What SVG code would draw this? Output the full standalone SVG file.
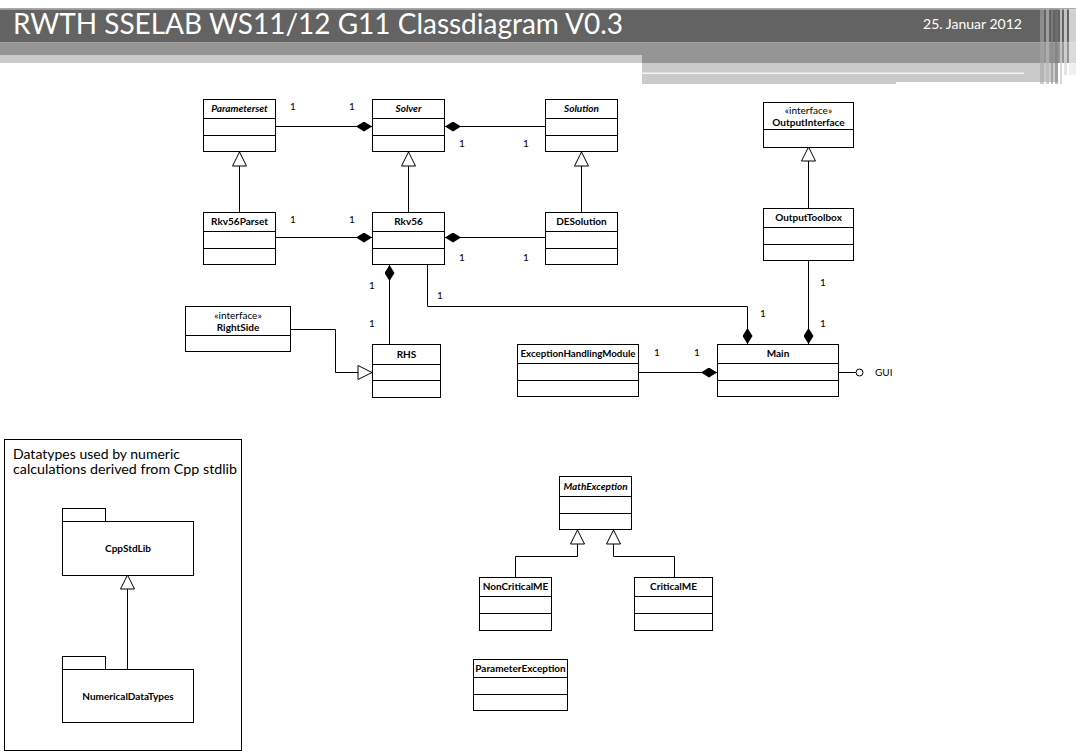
<svg xmlns="http://www.w3.org/2000/svg" width="1076" height="754" viewBox="0 0 1076 754">
<style>
.box{fill:#fff;stroke:#000;stroke-width:1}
.frame{fill:none;stroke:#000;stroke-width:1}
.sep{stroke:#000;stroke-width:1}
.t{font-family:Lato,"Liberation Sans",sans-serif;font-size:10px;fill:#000}
.n{font-weight:bold;text-anchor:middle}
.it{font-style:italic}
.st{text-anchor:middle}
.m{font-family:Lato,"Liberation Sans",sans-serif;font-size:10px;fill:#000;text-anchor:middle}
.c{fill:none;stroke:#000;stroke-width:1}
.comp{marker-end:url(#dia)}
.gen{marker-end:url(#tri)}
</style>
<defs>
<marker id="dia" viewBox="0 0 16 10" refX="16" refY="5" markerWidth="16" markerHeight="10" markerUnits="userSpaceOnUse" orient="auto">
<path d="M0,5 L8,0 L16,5 L8,10 Z" fill="#000"/>
</marker>
<marker id="tri" viewBox="-1 -1 16 16" refX="14" refY="7" markerWidth="16" markerHeight="16" markerUnits="userSpaceOnUse" orient="auto">
<path d="M0,0 L14,7 L0,14 Z" fill="#fff" stroke="#000" stroke-width="1"/>
</marker>
</defs>
<rect width="1076" height="754" fill="#fff"/>
<g id="header">
<rect x="0" y="8" width="1076" height="1.5" fill="#a8a8a8"/>
<rect x="0" y="9.5" width="1076" height="33" fill="#636363"/>
<rect x="0" y="42.5" width="1076" height="12.5" fill="#959595"/>
<rect x="0" y="55" width="642" height="8" fill="#cacaca"/>
<rect x="642" y="55" width="434" height="8" fill="#959595"/>
<rect x="642" y="63" width="416" height="21" fill="#cacaca"/>
<rect x="642" y="72.5" width="382" height="1.5" fill="#f4f4f4"/>
<rect x="896" y="82" width="162" height="2" fill="#fff"/>
<rect x="1040" y="9" width="4" height="75" fill="#a8a8a8" opacity="0.6"/>
<rect x="1046" y="9" width="3" height="75" fill="#b8b8b8" opacity="0.7"/>
<rect x="1051" y="9" width="2" height="75" fill="#8a8a8a" opacity="0.6"/>
<rect x="1055" y="9" width="3" height="75" fill="#777" opacity="0.5"/>
<rect x="1060" y="9" width="2" height="75" fill="#d0d0d0" opacity="0.8"/>
<rect x="1064" y="9" width="3" height="66" fill="#dcdcdc" opacity="0.8"/>
<rect x="1069" y="9" width="7" height="66" fill="#ececec" opacity="0.8"/>
<text x="13" y="33.5" font-family="Lato,'Liberation Sans',sans-serif" font-size="29" fill="#fff" textLength="610" lengthAdjust="spacingAndGlyphs">RWTH SSELAB WS11/12 G11 Classdiagram V0.3</text>
<text x="923" y="28.5" font-family="Lato,'Liberation Sans',sans-serif" font-size="13" fill="#fff" textLength="99" lengthAdjust="spacingAndGlyphs">25. Januar 2012</text>
</g>
<g id="Datatypes">
<rect class="frame" x="4.5" y="439.5" width="237" height="311"/>
<text x="13" y="459" font-family="Lato,'Liberation Sans',sans-serif" font-size="13" fill="#000" textLength="167" lengthAdjust="spacingAndGlyphs">Datatypes used by numeric</text>
<text x="13" y="474" font-family="Lato,'Liberation Sans',sans-serif" font-size="13" fill="#000" textLength="224" lengthAdjust="spacingAndGlyphs">calculations derived from Cpp stdlib</text>
</g>
<g id="connectors">
<path class="c comp" d="M276,126.5 H372"/>
<path class="c comp" d="M545,126.5 H445"/>
<path class="c comp" d="M276,237.5 H372"/>
<path class="c comp" d="M545,237.5 H445"/>
<path class="c gen" d="M239.5,212 V152"/>
<path class="c gen" d="M408.5,212 V152"/>
<path class="c gen" d="M581.5,212 V152"/>
<path class="c gen" d="M808.5,208 V147"/>
<path class="c comp" d="M808.5,261 V344"/>
<path class="c comp" d="M427.5,265 V306.5 H747.5 V344"/>
<path class="c comp" d="M389.5,344 V265"/>
<path class="c gen" d="M290,329.5 H335.5 V372.5 H372"/>
<path class="c comp" d="M638,372.5 H717"/>
<path class="c" d="M838,372.5 H856"/>
<circle cx="859.5" cy="372.5" r="3.5" fill="#fff" stroke="#000"/>
<text class="m" x="293" y="110">1</text>
<text class="m" x="352" y="110">1</text>
<text class="m" x="462" y="147">1</text>
<text class="m" x="526" y="147">1</text>
<text class="m" x="293" y="223">1</text>
<text class="m" x="352" y="223">1</text>
<text class="m" x="462" y="261">1</text>
<text class="m" x="526" y="261">1</text>
<text class="m" x="372" y="289">1</text>
<text class="m" x="372" y="327">1</text>
<text class="m" x="440" y="299">1</text>
<text class="m" x="763" y="317">1</text>
<text class="m" x="823" y="286">1</text>
<text class="m" x="823" y="327">1</text>
<text class="m" x="657" y="356">1</text>
<text class="m" x="697" y="356">1</text>
<text class="t" x="875" y="376">GUI</text>
<path class="c gen" d="M515.5,577 V556.5 H577.5 V530"/>
<path class="c gen" d="M674.5,577 V556.5 H613.5 V530"/>
<path class="c gen" d="M127.5,669 V575"/>
</g>
<g id="Parameterset">
<rect class="box" x="203.5" y="99.5" width="72" height="52"/>
<path class="sep" d="M203.5,118.5 H275.5 M203.5,135.5 H275.5"/>
<text class="t n it" x="239.5" y="112">Parameterset</text>
</g>
<g id="Solver">
<rect class="box" x="372.5" y="99.5" width="72" height="52"/>
<path class="sep" d="M372.5,118.5 H444.5 M372.5,135.5 H444.5"/>
<text class="t n it" x="408.5" y="112">Solver</text>
</g>
<g id="Solution">
<rect class="box" x="545.5" y="99.5" width="72" height="52"/>
<path class="sep" d="M545.5,118.5 H617.5 M545.5,135.5 H617.5"/>
<text class="t n it" x="581.5" y="112">Solution</text>
</g>
<g id="Rkv56Parset">
<rect class="box" x="203.5" y="212.5" width="72" height="52"/>
<path class="sep" d="M203.5,231.5 H275.5 M203.5,248.5 H275.5"/>
<text class="t n" x="239.5" y="225">Rkv56Parset</text>
</g>
<g id="Rkv56">
<rect class="box" x="372.5" y="212.5" width="72" height="52"/>
<path class="sep" d="M372.5,231.5 H444.5 M372.5,248.5 H444.5"/>
<text class="t n" x="408.5" y="225">Rkv56</text>
</g>
<g id="DESolution">
<rect class="box" x="545.5" y="212.5" width="72" height="52"/>
<path class="sep" d="M545.5,231.5 H617.5 M545.5,248.5 H617.5"/>
<text class="t n" x="581.5" y="225">DESolution</text>
</g>
<g id="OutputInterface">
<rect class="box" x="763.5" y="102.5" width="90" height="45"/>
<path class="sep" d="M763.5,129.5 H853.5"/>
<text class="t st" x="808.5" y="114">«interface»</text>
<text class="t n" x="808.5" y="126">OutputInterface</text>
</g>
<g id="OutputToolbox">
<rect class="box" x="763.5" y="208.5" width="90" height="52"/>
<path class="sep" d="M763.5,227.5 H853.5 M763.5,244.5 H853.5"/>
<text class="t n" x="808.5" y="221">OutputToolbox</text>
</g>
<g id="RightSide">
<rect class="box" x="185.5" y="306.5" width="105" height="45"/>
<path class="sep" d="M185.5,335.5 H290.5"/>
<text class="t st" x="238" y="319">«interface»</text>
<text class="t n" x="238" y="331">RightSide</text>
</g>
<g id="RHS">
<rect class="box" x="372.5" y="344.5" width="68" height="53"/>
<path class="sep" d="M372.5,364.5 H440.5 M372.5,380.5 H440.5"/>
<text class="t n" x="406.5" y="358">RHS</text>
</g>
<g id="ExceptionHandlingModule">
<rect class="box" x="517.5" y="344.5" width="121" height="52"/>
<path class="sep" d="M517.5,363.5 H638.5 M517.5,380.5 H638.5"/>
<text class="t n" x="578" y="357" textLength="115" lengthAdjust="spacingAndGlyphs">ExceptionHandlingModule</text>
</g>
<g id="Main">
<rect class="box" x="717.5" y="344.5" width="121" height="52"/>
<path class="sep" d="M717.5,363.5 H838.5 M717.5,380.5 H838.5"/>
<text class="t n" x="778" y="357">Main</text>
</g>
<g id="CppStdLib">
<rect class="box" x="62.5" y="508.5" width="43" height="13"/>
<rect class="box" x="62.5" y="521.5" width="131" height="54"/>
<text class="t n" x="128" y="552">CppStdLib</text>
</g>
<g id="NumericalDataTypes">
<rect class="box" x="62.5" y="656.5" width="43" height="13"/>
<rect class="box" x="62.5" y="669.5" width="131" height="53"/>
<text class="t n" x="128" y="700">NumericalDataTypes</text>
</g>
<g id="MathException">
<rect class="box" x="559.5" y="476.5" width="72" height="53"/>
<path class="sep" d="M559.5,496.5 H631.5 M559.5,513.5 H631.5"/>
<text class="t n it" x="595.5" y="490">MathException</text>
</g>
<g id="NonCriticalME">
<rect class="box" x="479.5" y="577.5" width="72" height="53"/>
<path class="sep" d="M479.5,596.5 H551.5 M479.5,613.5 H551.5"/>
<text class="t n" x="515.5" y="590">NonCriticalME</text>
</g>
<g id="CriticalME">
<rect class="box" x="634.5" y="577.5" width="78" height="53"/>
<path class="sep" d="M634.5,596.5 H712.5 M634.5,613.5 H712.5"/>
<text class="t n" x="673.5" y="590">CriticalME</text>
</g>
<g id="ParameterException">
<rect class="box" x="473.5" y="659.5" width="94" height="51"/>
<path class="sep" d="M473.5,677.5 H567.5 M473.5,694.5 H567.5"/>
<text class="t n" x="520.5" y="672">ParameterException</text>
</g>
</svg>
